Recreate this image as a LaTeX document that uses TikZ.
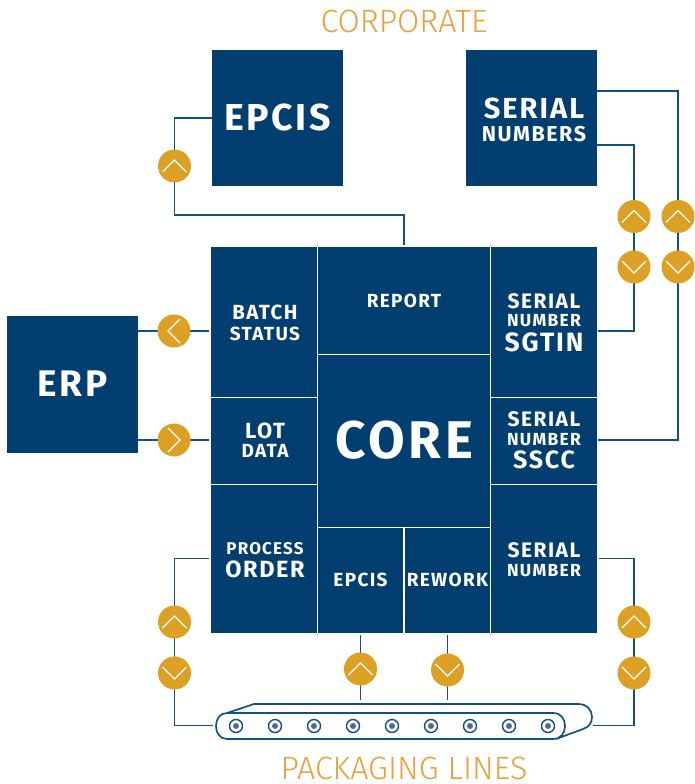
\documentclass[tikz,border=0pt]{standalone}
\usepackage{fontspec}
\usetikzlibrary{backgrounds}
\setmainfont{Fira Sans}
\newfontfamily\lab[LetterSpace=7]{Fira Sans}
\newfontfamily\lightf{Fira Sans Light}
\definecolor{navy}{HTML}{023E6F}
\definecolor{gold}{HTML}{DCA024}
\definecolor{wire}{HTML}{14507F}
\definecolor{heading}{HTML}{EC9F3E}
\definecolor{hub}{HTML}{4A6A9F}
\newcommand{\fs}[2]{\fontsize{#1}{#2}\selectfont\lab\bfseries}
\tikzset{
  cellbox/.style={rectangle,fill=navy,draw=none,inner sep=0pt,outer sep=0pt},
  caption/.style={text=white,align=center,inner sep=0pt,font=\lab\bfseries},
  heading/.style={text=heading,inner sep=0pt,font=\lightf\fontsize{32.2}{34}\selectfont},
  conn/.style={draw=wire,line width=1.7pt},
  gate/.style={circle,fill=gold,draw=none,minimum size=33pt,inner sep=0pt,outer sep=0pt},
  chev/.style={draw=white,line width=1.3pt},
  gateup/.style={gate,path picture={\draw[chev] ([shift={(-12pt,-6pt)}]path picture bounding box.center) -- ++(12pt,12pt) -- ++(12pt,-12pt);}},
  gatedown/.style={gate,path picture={\draw[chev] ([shift={(-12pt,6pt)}]path picture bounding box.center) -- ++(12pt,-12pt) -- ++(12pt,12pt);}},
  gateleft/.style={gate,path picture={\draw[chev] ([shift={(6pt,12pt)}]path picture bounding box.center) -- ++(-12pt,-12pt) -- ++(12pt,-12pt);}},
  gateright/.style={gate,path picture={\draw[chev] ([shift={(-6pt,12pt)}]path picture bounding box.center) -- ++(12pt,-12pt) -- ++(-12pt,-12pt);}},
  belt/.style={draw=wire,line width=1.7pt,line join=round},
  rollerring/.style={circle,draw=wire,line width=1.4pt,fill=white,minimum size=13pt,inner sep=0pt},
  hubdot/.style={circle,fill=hub,minimum size=6pt,inner sep=0pt},
}
\newcommand{\cell}[5]{\node[cellbox,minimum width={(#4-#2)*1pt},minimum height={(#5-#3)*1pt}] (#1) at ({(#2+#4)/2},{(#3+#5)/2}) {};}
\begin{document}
\begin{tikzpicture}[x=1pt,y=-1pt]
\useasboundingbox (0,0) rectangle (694,784);
% boxes
\cell{epcisTop}{212}{50}{343}{186}
\cell{serialTop}{466}{50}{597}{186}
\cell{erp}{7}{316}{138}{453}
\cell{batch}{211}{247}{317}{396.5}
\cell{lot}{211}{398}{317}{483.5}
\cell{process}{211}{485}{317}{633}
\cell{report}{318.3}{247}{489.5}{353.5}
\cell{core}{318.3}{355}{489.5}{526.5}
\cell{epcisLow}{318.3}{528}{403.3}{633}
\cell{rework}{404.7}{528}{489.5}{633}
\cell{sgtin}{491}{247}{597}{396.5}
\cell{sscc}{491}{398}{597}{483.5}
\cell{serialLow}{491}{485}{597}{633}
% captions
\node[caption] (tEpcisTop) at (277.5,118) {\fs{37.5}{40}EPCIS};
\node[caption] (tSerialTop) at (534,120) {\fs{29}{30}SERIAL\\[6pt]\fs{21.5}{22}NUMBERS};
\node[caption] (tErp) at (72.5,384) {\fs{37}{38}ERP};
\node[caption] (tBatch) at (265,322.5) {\fs{20.5}{21}BATCH\\[6pt]\fs{19}{21}STATUS};
\node[caption] (tLot) at (265,440) {\fs{22}{22}LOT\\[5pt]\fs{19}{20}DATA};
\node[caption] (tProcess) at (265,560.5) {\fs{17}{18}PROCESS\\[5pt]\fs{23.5}{24}ORDER};
\node[caption] (tReport) at (404,300.5) {\fs{19}{20}REPORT};
\node[caption] (tCore) at (404,440) {\fs{53}{56}CORE};
\node[caption] (tEpcisLow) at (360.5,580) {\fs{19}{20}EPCIS};
\node[caption] (tRework) at (447.5,580) {\fs{19}{20}REWORK};
\node[caption] (tSgtin) at (544,322.5) {\fs{21}{21}SERIAL\\[5pt]\fs{17.5}{18}NUMBER\\[4pt]\fs{26.5}{26}SGTIN};
\node[caption] (tSscc) at (544,440.5) {\fs{21}{21}SERIAL\\[5pt]\fs{17.5}{18}NUMBER\\[4pt]\fs{25}{24}SSCC};
\node[caption] (tSerialLow) at (544,559.5) {\fs{21}{21}SERIAL\\[5pt]\fs{17.5}{18}NUMBER};
\node[heading] (hCorp) at (404,21) {CORPORATE};
\node[heading] (hPack) at (404,768) {PACKAGING LINES};
% gates
\node[gateup] (g1) at (174.5,166) {};
\node[gateup] (g2) at (634,216.5) {};
\node[gatedown] (g3) at (634,267) {};
\node[gateup] (g4) at (678,216.5) {};
\node[gatedown] (g5) at (678,267) {};
\node[gateleft] (g6) at (174,331) {};
\node[gateright] (g7) at (174,440) {};
\node[gateup] (g8) at (174.5,622) {};
\node[gatedown] (g9) at (174.5,673) {};
\node[gateup] (g10) at (634,622) {};
\node[gatedown] (g11) at (634,673) {};
\node[gateup] (g12) at (360.5,669) {};
\node[gatedown] (g13) at (447.5,670) {};
% conveyor
\draw[belt] (227,713) -- (553,713) .. controls (561,713) and (565,719) .. (565,726) .. controls (565,733) and (561,739) .. (553,739) -- (227,739) .. controls (220,739) and (216,733) .. (216,726) .. controls (216,719) and (220,713) .. (227,713) -- (254,704) -- (578,704) .. controls (587,704) and (592,710) .. (592,717) .. controls (592,723) and (589,727) .. (583,729) -- (556,739);
\coordinate (beltL) at (213,725.5);
\coordinate (beltR) at (593,725.5);
\coordinate (beltTopA) at (360.5,700);
\coordinate (beltTopB) at (447.5,700);
\foreach \i/\x in {1/236,2/275,3/314,4/353,5/392,6/431,7/470,8/509,9/548} {
  \node[rollerring] (ring\i) at (\x,726) {};
  \node[hubdot] (hub\i) at (\x,726) {};
}
% connectors
\coordinate (epcisElbow) at (174.5,215);
\coordinate (snA) at (597,91);
\coordinate (snB) at (597,145);
\coordinate (sgtinOut) at (598,331);
\coordinate (ssccOut) at (598,440);
\coordinate (batchOut) at (209,331);
\coordinate (lotOut) at (209,440);
\coordinate (procOut) at (209,558.5);
\coordinate (serOut) at (599,558.5);
\coordinate (erpA) at (138,331);
\coordinate (erpB) at (138,440);
\coordinate (epcisIn) at (360.5,635);
\coordinate (reworkIn) at (447.5,635);
\begin{scope}[on background layer]
\draw[conn] (epcisTop.west) -| (epcisElbow) -| ([yshift=2pt]report.north);
\draw[conn] (snA) -| (g4.center) -- (g5.center) |- (ssccOut);
\draw[conn] (snB) -| (g2.center) -- (g3.center) |- (sgtinOut);
\draw[conn] (erpA) -- (g6.center) -- (batchOut);
\draw[conn] (erpB) -- (g7.center) -- (lotOut);
\draw[conn] (procOut) -| (g8.center) -- (g9.center) |- (beltL);
\draw[conn] (serOut) -| (g10.center) -- (g11.center) |- (beltR);
\draw[conn] (epcisIn) -- (g12.center) -- (beltTopA);
\draw[conn] (reworkIn) -- (g13.center) -- (beltTopB);
\end{scope}
\end{tikzpicture}
\end{document}
